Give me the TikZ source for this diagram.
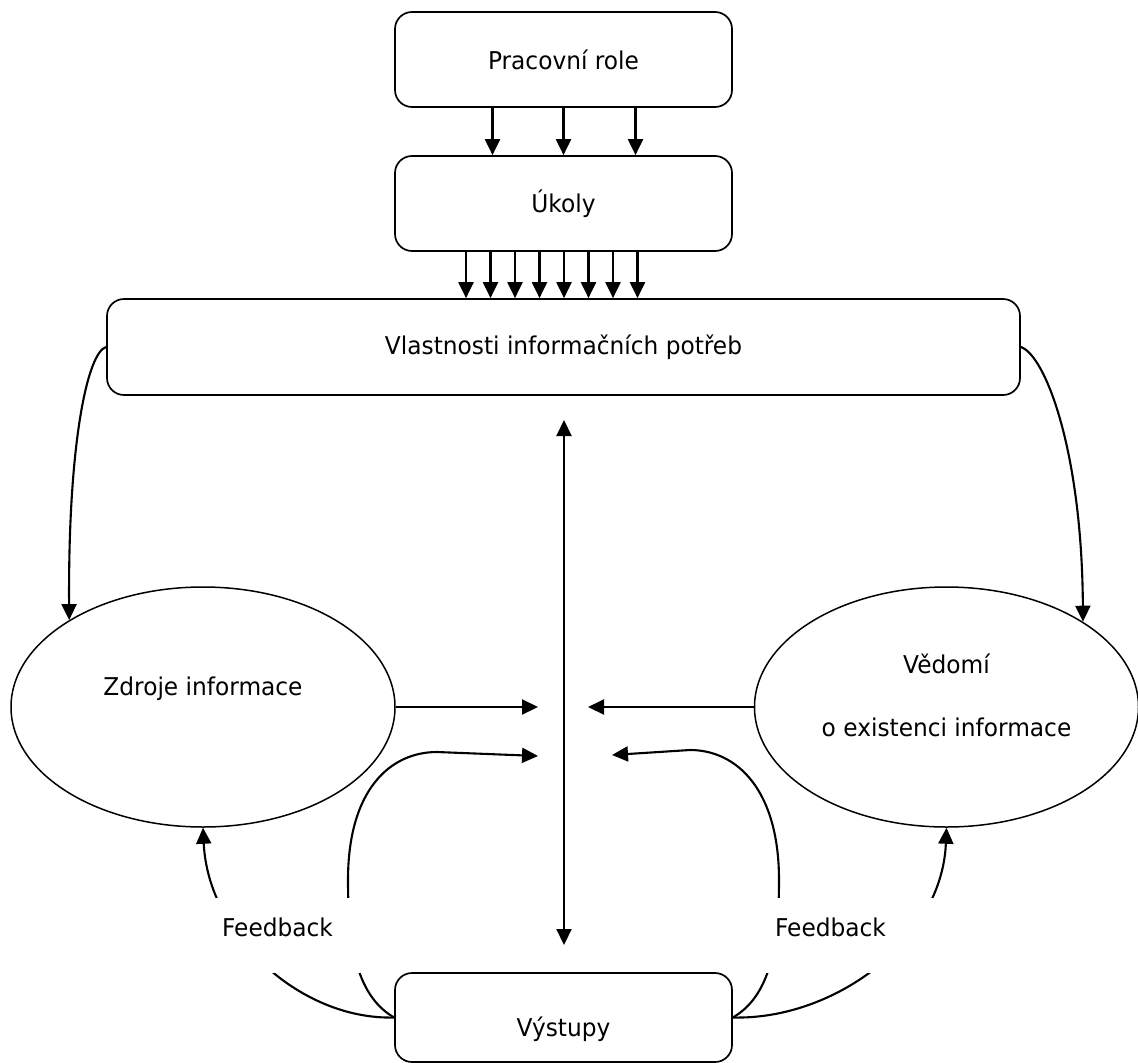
\documentclass[tikz,border=0pt]{standalone}
\usepackage{fontspec}
\setmainfont[FakeStretch=0.95]{DejaVu Sans}
\usetikzlibrary{arrows.meta,shapes.geometric}

\begin{document}
\begin{tikzpicture}[x=1pt,y=-1pt,
  txt/.style={font=\fontsize{24.5}{30}\selectfont},
  box/.style={txt, draw, rounded corners=17pt, line width=1.7pt,
    minimum width=337pt, minimum height=95pt, inner sep=0pt},
  oval/.style={txt, draw, ellipse, line width=1.5pt,
    minimum width=384pt, minimum height=240pt, inner sep=0pt, align=center},
  conn/.style={line width=2.1pt, -{Triangle[length=16pt,width=15pt]}},
  both/.style={line width=2.1pt, {Triangle[length=16pt,width=15pt]}-{Triangle[length=16pt,width=15pt]}},
  fbk/.style={txt, fill=white, inner sep=0pt, minimum width=210pt,
    minimum height=75pt, text height=20pt, text depth=19pt}
]
\useasboundingbox (0,0) rectangle (1138,1063);

% boxes
\node[box] (pr) at (563.5,59.5) {Pracovní role};
\node[box] (uk) at (563.5,203.5) {Úkoly};
\node[box, minimum width=913pt, minimum height=96pt] (vl) at (563.5,347)
  {Vlastnosti informačních potřeb};
\node[box, minimum height=89pt, text height=40pt, text depth=3pt] (vy)
  at (563.5,1017.5) {Výstupy};

% ellipses
\node[oval, text height=18pt, text depth=42pt] (zd) at (203,707) {Zdroje informace};
\node[oval, text height=100pt, text depth=42pt] (ve) at (946.5,707)
  {Vědomí\\[33pt]o existenci informace};

% role -> tasks
\foreach \dx in {-71,0,72}
  \draw[conn] ([xshift=\dx pt]pr.south) -- ([xshift=\dx pt]uk.north);
% tasks -> information needs
\foreach \i in {0,...,7}
  \draw[conn] ([xshift=-97.5pt+24.5pt*\i]uk.south) -- ([xshift=-97.5pt+24.5pt*\i]vl.north);

% needs -> sources / awareness
\draw[conn] (vl.west) .. controls (88,352) and (68,440) .. (zd.147.8);
\draw[conn] (vl.east) .. controls (1045,355) and (1082,450) .. (ve.32.7);

% central axis
\coordinate (axt) at (564,420);
\coordinate (axb) at (564,945);
\draw[both] (axt) -- (axb);

% side inputs toward the axis
\coordinate (hl) at (538,707);
\coordinate (hr) at (588,707);
\draw[conn] (zd.east) -- (hl);
\draw[conn] (ve.west) -- (hr);

\coordinate (ll) at (538,756);
\coordinate (lr) at (612,755);
\draw[conn] (vy.west) .. controls (355,995) and (348,940) .. (348,880)
  .. controls (348,790) and (390,752) .. (437,752) -- (ll);
\draw[conn] (vy.east) .. controls (772,995) and (779,940) .. (779,880)
  .. controls (779,790) and (737,750) .. (690,750) -- (lr);

% feedback loops
\draw[conn] (vy.west) .. controls (300,1020) and (208,935) .. (zd.south);
\draw[conn] (vy.east) .. controls (835,1020) and (942,940) .. (ve.south);

% feedback labels
\node[fbk] (fl) at (277.5,935.5) {Feedback};
\node[fbk] (fr) at (830.5,935.5) {Feedback};
\end{tikzpicture}
\end{document}
